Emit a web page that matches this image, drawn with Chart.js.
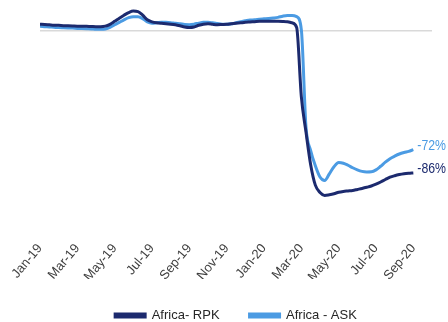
<!DOCTYPE html>
<html>
<head>
<meta charset="utf-8">
<script src="https://cdn.jsdelivr.net/npm/chart.js@4.4.1/dist/chart.umd.min.js"></script>
<style>
  html, body { margin: 0; padding: 0; background: #ffffff; }
  #wrap { width: 448px; height: 322px; }
</style>
</head>
<body>
<div id="wrap"><canvas id="c" width="448" height="322"></canvas></div>
<script>
// Tick labels shown every second month along the time axis
const tickLabels = ['Jan-19', 'Mar-19', 'May-19', 'Jul-19', 'Sep-19', 'Nov-19',
                    'Jan-20', 'Mar-20', 'May-20', 'Jul-20', 'Sep-20'];

// Series names
const seriesNames = ['Africa- RPK', 'Africa - ASK'];

// Year-on-year change (%), sampled roughly weekly from Jan-19 to Sep-20
const rpkValues = [
  3.7, 3.6, 3.4, 3.2, 3.1, 2.9, 2.8, 2.7, 2.6, 2.6, 2.5, 2.4, 2.3, 2.3, 2.6, 3.7,
  5.5, 7.4, 9.2, 10.8, 11.7, 11.4, 9.2, 6.4, 5.2, 4.6, 4.3, 4.1, 3.8, 3.4, 2.8, 2.1,
  1.8, 2.1, 3.1, 3.8, 4.0, 3.7, 3.5, 3.6, 3.7, 4.0, 4.3, 4.6, 4.9, 5.1, 5.3, 5.5,
  5.5, 5.5, 5.5, 5.5, 5.4, 5.2, 4.6, 1.8, -39.9, -61.4, -81.1, -93.4, -97.8, -99.6,
  -99.2, -98.6, -97.7, -97.2, -96.9, -96.6, -96.0, -95.4, -94.7, -93.9, -92.8, -91.5,
  -90.0, -88.6, -87.7, -87.0, -86.5, -86.2, -86.0
];
const askValues = [
  2.5, 2.3, 2.1, 1.9, 1.7, 1.6, 1.5, 1.4, 1.2, 1.1, 1.0, 0.9, 0.7, 0.7, 0.9, 1.8,
  3.4, 4.9, 6.4, 7.7, 8.3, 8.3, 7.1, 5.2, 4.4, 4.6, 4.9, 4.9, 4.7, 4.3, 4.0, 3.6,
  3.5, 3.8, 4.4, 4.9, 4.9, 4.6, 4.2, 3.8, 3.7, 4.0, 4.6, 5.2, 5.8, 6.3, 6.4, 6.8,
  7.0, 7.2, 7.5, 7.9, 8.6, 9.0, 9.0, 8.3, 0.5, -58.4, -72.5, -81.7, -88.5, -90.6,
  -86.6, -82.3, -79.8, -80.2, -81.4, -82.9, -84.2, -85.1, -85.4, -85.3, -84.2, -82.0,
  -79.5, -77.4, -75.9, -74.6, -73.7, -73.0, -72.0
];

const seriesColors = ['#1c2a6e', '#4b9be3'];

// Sampling position of each value, in months since Jan-19 (four samples per month)
const samplePositions = rpkValues.map((_, i) => i / 4);

const toPoints = vals => vals.map((v, i) => ({ x: samplePositions[i], y: v }));

const baseFont = '"Liberation Sans", Arial, sans-serif';

// Writes the last value of each series just to the right of its line end,
// in a horizontally condensed face
const endLabels = {
  id: 'endLabels',
  afterDatasetsDraw(chart) {
    const ctx = chart.ctx;
    const squeeze = 0.82;
    chart.data.datasets.forEach((ds, di) => {
      const meta = chart.getDatasetMeta(di);
      const last = meta.data[meta.data.length - 1];
      const value = ds.data[ds.data.length - 1].y;
      ctx.save();
      ctx.font = '15px ' + baseFont;
      ctx.textAlign = 'left';
      ctx.textBaseline = 'middle';
      ctx.fillStyle = ds.borderColor;
      ctx.translate(last.x + 4, last.y - 4);
      ctx.scale(squeeze, 1);
      ctx.fillText(Math.round(value) + '%', 0, 0);
      ctx.restore();
    });
  }
};

new Chart(document.getElementById('c'), {
  type: 'line',
  data: {
    datasets: [
      {
        label: seriesNames[0],
        data: toPoints(rpkValues),
        borderColor: seriesColors[0],
        backgroundColor: seriesColors[0],
        borderWidth: 3,
        pointRadius: 0,
        cubicInterpolationMode: 'monotone'
      },
      {
        label: seriesNames[1],
        data: toPoints(askValues),
        borderColor: seriesColors[1],
        backgroundColor: seriesColors[1],
        borderWidth: 3,
        pointRadius: 0,
        cubicInterpolationMode: 'monotone'
      }
    ]
  },
  options: {
    responsive: false,
    animation: false,
    layout: { padding: { left: 40, right: 16, top: 5, bottom: -10 } },
    plugins: {
      tooltip: { enabled: false },
      legend: {
        position: 'bottom',
        labels: {
          boxWidth: 30,
          boxHeight: 3,
          padding: 30,
          color: '#262626',
          font: { family: baseFont, size: 13 }
        }
      }
    },
    scales: {
      x: {
        type: 'linear',
        min: 0,
        max: 21,
        grid: { display: false, drawTicks: false },
        border: { display: false },
        ticks: {
          stepSize: 2,
          includeBounds: false,
          autoSkip: false,
          minRotation: 50,
          maxRotation: 50,
          padding: 6,
          color: '#404040',
          font: { family: baseFont, size: 13 },
          callback: v => (Number.isInteger(v / 2) && tickLabels[v / 2]) ? tickLabels[v / 2] : ''
        },
        afterFit: s => { s.height = 44; }
      },
      y: {
        min: -123.5,
        max: 15.36,
        border: { display: false },
        grid: {
          drawTicks: false,
          lineWidth: 1.5,
          color: c => (c.tick && c.tick.value === 0) ? '#d9d9d9' : 'rgba(0,0,0,0)'
        },
        ticks: { display: false },
        afterFit: s => { s.width = 0; }
      }
    }
  },
  plugins: [endLabels]
});
</script>
</body>
</html>
